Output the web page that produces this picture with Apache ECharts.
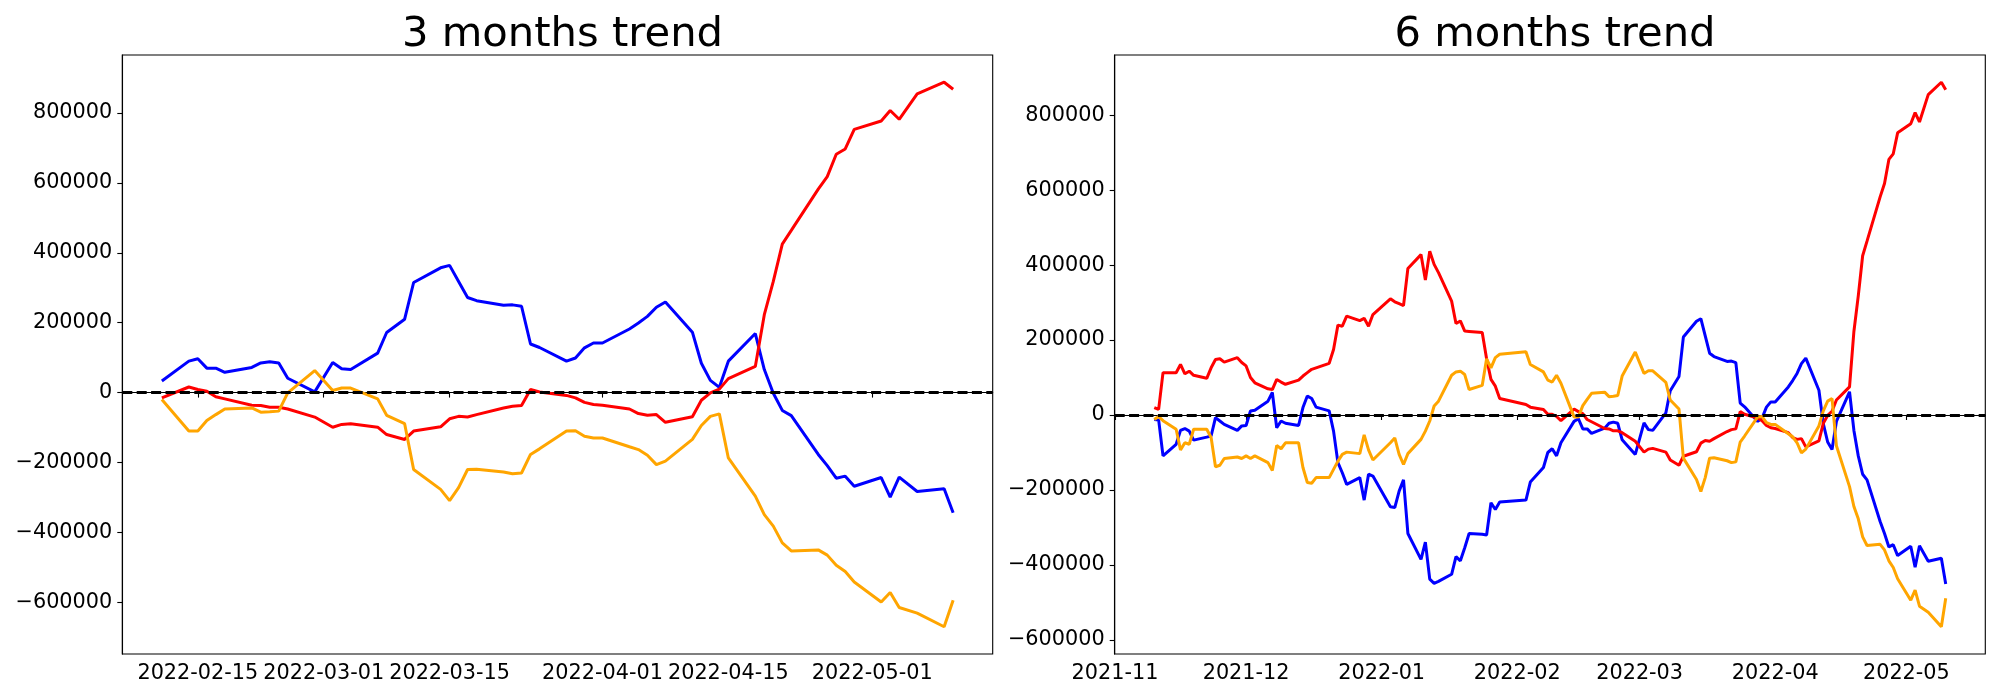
<!DOCTYPE html>
<html><head><meta charset="utf-8">
<script src="https://cdn.jsdelivr.net/npm/echarts@6/dist/echarts.min.js"></script>
<style>html,body{margin:0;padding:0;background:#fff}#c{width:2000px;height:700px}</style>
</head><body><div id="c"></div>
<script>
// ---------- DATA ----------
const titles = ['3 months trend', '6 months trend'];

const datesL = ['2022-02-11','2022-02-14','2022-02-15','2022-02-16','2022-02-17','2022-02-18','2022-02-21','2022-02-22','2022-02-23','2022-02-24','2022-02-25','2022-02-28',
'2022-03-02','2022-03-03','2022-03-04','2022-03-07','2022-03-08','2022-03-10','2022-03-11','2022-03-14','2022-03-15','2022-03-16','2022-03-17','2022-03-18','2022-03-21','2022-03-22','2022-03-23','2022-03-24','2022-03-25','2022-03-28','2022-03-29','2022-03-30','2022-03-31',
'2022-04-01','2022-04-04','2022-04-05','2022-04-06','2022-04-07','2022-04-08','2022-04-11','2022-04-12','2022-04-13','2022-04-14','2022-04-15','2022-04-18','2022-04-19','2022-04-20','2022-04-21','2022-04-22','2022-04-25','2022-04-26','2022-04-27','2022-04-28','2022-04-29',
'2022-05-02','2022-05-03','2022-05-04','2022-05-06','2022-05-09','2022-05-10'];

const blueL = [33000,90000,97000,70000,70000,58000,72000,85000,88000,85000,41000,2000,
86000,68000,66000,113000,172000,210000,315000,357000,364000,318000,272000,263000,250000,251000,247000,139000,129000,90000,99000,128000,142000,
142000,182000,199000,218000,244000,259000,173000,84000,35000,15000,90000,169000,66000,-2000,-51000,-66000,-177000,-209000,-245000,-239000,-268000,
-243000,-299000,-242000,-283000,-275000,-344000];

const redL = [-15000,16000,9000,4000,-12000,-18000,-36000,-37000,-42000,-42000,-47000,-70000,
-99000,-91000,-89000,-99000,-120000,-134000,-110000,-98000,-75000,-68000,-70000,-63000,-44000,-39000,-37000,9000,2000,-8000,-15000,-28000,-34000,
-36000,-47000,-60000,-65000,-63000,-85000,-69000,-22000,-1000,10000,40000,75000,223000,318000,425000,464000,582000,618000,682000,697000,753000,
777000,807000,782000,855000,888000,868000];

const orangeL = [-20000,-110000,-110000,-80000,-63000,-47000,-44000,-56000,-55000,-53000,-1000,63000,
6000,13000,13000,-18000,-65000,-89000,-220000,-277000,-309000,-272000,-220000,-219000,-227000,-232000,-230000,-177000,-161000,-110000,-109000,-125000,-130000,
-130000,-155000,-163000,-179000,-206000,-196000,-134000,-94000,-68000,-61000,-187000,-296000,-349000,-382000,-430000,-453000,-450000,-465000,-494000,-512000,-542000,
-599000,-572000,-615000,-631000,-670000,-594000];

const datesR = ['2021-11-10','2021-11-11','2021-11-12','2021-11-15','2021-11-16','2021-11-17','2021-11-18','2021-11-19','2021-11-22','2021-11-23','2021-11-24','2021-11-25','2021-11-26','2021-11-29','2021-11-30',
'2021-12-01','2021-12-02','2021-12-03','2021-12-06','2021-12-07','2021-12-08','2021-12-09','2021-12-10','2021-12-13','2021-12-14','2021-12-15','2021-12-16','2021-12-17','2021-12-20','2021-12-21','2021-12-22','2021-12-23','2021-12-24','2021-12-27','2021-12-28','2021-12-29','2021-12-30',
'2022-01-03','2022-01-04','2022-01-05','2022-01-06','2022-01-07','2022-01-10','2022-01-11','2022-01-12','2022-01-13','2022-01-14','2022-01-17','2022-01-18','2022-01-19','2022-01-20','2022-01-21','2022-01-24','2022-01-25','2022-01-26','2022-01-27','2022-01-28',
'2022-02-03','2022-02-04','2022-02-07','2022-02-08','2022-02-09','2022-02-10',
'2022-02-11','2022-02-14','2022-02-15','2022-02-16','2022-02-17','2022-02-18','2022-02-21','2022-02-22','2022-02-23','2022-02-24','2022-02-25','2022-02-28',
'2022-03-02','2022-03-03','2022-03-04','2022-03-07','2022-03-08','2022-03-10','2022-03-11','2022-03-14','2022-03-15','2022-03-16','2022-03-17','2022-03-18','2022-03-21','2022-03-22','2022-03-23','2022-03-24','2022-03-25','2022-03-28','2022-03-29','2022-03-30','2022-03-31',
'2022-04-01','2022-04-04','2022-04-05','2022-04-06','2022-04-07','2022-04-08','2022-04-11','2022-04-12','2022-04-13','2022-04-14','2022-04-15','2022-04-18','2022-04-19','2022-04-20','2022-04-21','2022-04-22','2022-04-25','2022-04-26','2022-04-27','2022-04-28','2022-04-29',
'2022-05-02','2022-05-03','2022-05-04','2022-05-06','2022-05-09','2022-05-10'];

const blueR = [-12000,-13000,-109000,-78000,-41000,-36000,-43000,-67000,-59000,-56000,-7000,-16000,-25000,-41000,-29000,
-28000,11000,13000,37000,60000,-34000,-16000,-22000,-28000,20000,51000,44000,21000,11000,-43000,-127000,-154000,-185000,-167000,-227000,-158000,-163000,
-245000,-247000,-203000,-173000,-316000,-385000,-339000,-438000,-449000,-444000,-425000,-378000,-389000,-354000,-316000,-318000,-320000,-234000,-252000,-232000,
-227000,-179000,-140000,-100000,-90000,-109000,
-74000,-17000,-10000,-37000,-37000,-49000,-35000,-22000,-19000,-22000,-66000,-105000,
-21000,-39000,-41000,6000,65000,103000,208000,250000,257000,211000,165000,156000,143000,144000,140000,32000,22000,-17000,-8000,21000,35000,
35000,75000,92000,111000,137000,152000,66000,-23000,-72000,-92000,-17000,62000,-41000,-109000,-158000,-173000,-284000,-316000,-352000,-346000,-375000,
-350000,-406000,-349000,-390000,-382000,-451000];

const redR = [20000,15000,113000,113000,135000,110000,117000,106000,98000,126000,148000,150000,141000,153000,140000,
131000,100000,86000,70000,68000,95000,88000,82000,93000,104000,113000,122000,126000,138000,175000,240000,237000,264000,252000,258000,237000,268000,
310000,302000,297000,292000,391000,428000,360000,437000,402000,380000,304000,244000,251000,224000,223000,220000,150000,95000,77000,44000,
28000,21000,15000,2000,2000,-4000,
-15000,16000,9000,4000,-12000,-18000,-36000,-37000,-42000,-42000,-47000,-70000,
-99000,-91000,-89000,-99000,-120000,-134000,-110000,-98000,-75000,-68000,-70000,-63000,-44000,-39000,-37000,9000,2000,-8000,-15000,-28000,-34000,
-36000,-47000,-60000,-65000,-63000,-85000,-69000,-22000,-1000,10000,40000,75000,223000,318000,425000,464000,582000,618000,682000,697000,753000,
777000,807000,782000,855000,888000,868000];

const orangeR = [-12000,-4000,-15000,-38000,-93000,-74000,-78000,-38000,-38000,-60000,-138000,-134000,-116000,-112000,-116000,
-109000,-116000,-109000,-127000,-148000,-81000,-90000,-74000,-74000,-140000,-180000,-182000,-167000,-167000,-145000,-123000,-105000,-99000,-103000,-53000,-93000,-120000,
-74000,-61000,-105000,-132000,-103000,-65000,-43000,-16000,24000,37000,106000,115000,117000,108000,68000,79000,150000,126000,153000,162000,
169000,135000,115000,93000,88000,106000,
85000,-5000,-5000,25000,42000,58000,61000,49000,50000,52000,104000,168000,
111000,118000,118000,87000,40000,16000,-115000,-172000,-204000,-167000,-115000,-114000,-122000,-127000,-125000,-72000,-56000,-5000,-4000,-20000,-25000,
-25000,-50000,-58000,-74000,-101000,-91000,-29000,11000,37000,44000,-82000,-191000,-244000,-277000,-325000,-348000,-345000,-360000,-389000,-407000,-437000,
-494000,-467000,-510000,-526000,-565000,-489000];

const xTicksL = ['2022-02-15','2022-03-01','2022-03-15','2022-04-01','2022-04-15','2022-05-01'];
const xTicksR = ['2021-11-01','2021-12-01','2022-01-01','2022-02-01','2022-03-01','2022-04-01','2022-05-01'];
const yTicks = [-600000,-400000,-200000,0,200000,400000,600000,800000];

// ---------- HELPERS ----------
function ts(s){ const p = s.split('-').map(Number); return new Date(p[0], p[1]-1, p[2]).getTime(); }
function pad(n){ return n < 10 ? '0' + n : '' + n; }
function fmtDay(v){ const d = new Date(v); return d.getFullYear() + '-' + pad(d.getMonth()+1) + '-' + pad(d.getDate()); }
function fmtMon(v){ const d = new Date(v); return d.getFullYear() + '-' + pad(d.getMonth()+1); }
function pairs(dates, vals){ return dates.map((d, i) => [ts(d), vals[i]]); }
function xRange(dates){ const a = ts(dates[0]), b = ts(dates[dates.length-1]); const m = 0.05*(b-a); return [a-m, b+m]; }
function yRange(arrs){ const all = [].concat.apply([], arrs); const lo = Math.min.apply(null, all), hi = Math.max.apply(null, all); const m = 0.05*(hi-lo); return [lo-m, hi+m]; }
function yFmt(v){ return v < 0 ? '\u2212' + String(Math.abs(Math.round(v))) : String(Math.round(v)); }

const FONT = 'DejaVu Sans';
const TICK_FS = 20.8;
const LINE_W = 3.0;
const grids = [
  {left: 122.3, top: 55, width: 870.4, height: 599},
  {left: 1114.7, top: 55, width: 870.6, height: 599}
];

function xAxisCfg(idx, dates, ticks, fmt){
  const r = xRange(dates);
  return {
    type: 'value', gridIndex: idx, min: r[0], max: r[1], scale: true,
    axisLine: {show: true, lineStyle: {color: '#000', width: 1.1}},
    axisTick: {show: true, inside: false, length: 5, customValues: ticks.map(ts), lineStyle: {color: '#000', width: 1.1}},
    axisLabel: {show: true, customValues: ticks.map(ts), formatter: fmt, margin: 9, color: '#000', fontFamily: FONT, fontSize: TICK_FS, hideOverlap: false},
    splitLine: {show: false}
  };
}
function yAxisCfg(idx, arrs){
  const r = yRange(arrs);
  return {
    type: 'value', gridIndex: idx, min: r[0], max: r[1], scale: true,
    axisLine: {show: true, lineStyle: {color: '#000', width: 1.1}},
    axisTick: {show: true, inside: false, length: 5, customValues: yTicks, lineStyle: {color: '#000', width: 1.1}},
    axisLabel: {show: true, customValues: yTicks, formatter: yFmt, margin: 10, color: '#000', fontFamily: FONT, fontSize: TICK_FS},
    splitLine: {show: false}
  };
}
function lineSeries(idx, dates, vals, color, extra){
  return Object.assign({
    type: 'line', xAxisIndex: idx, yAxisIndex: idx,
    data: pairs(dates, vals), showSymbol: false, symbol: 'none',
    lineStyle: {color: color, width: LINE_W}, itemStyle: {color: color},
    silent: true, z: 2
  }, extra || {});
}
const zeroLine = {
  silent: true, symbol: ['none','none'], label: {show: false},
  lineStyle: {color: '#000', width: 2.8, type: [10, 4.4]},
  data: [{yAxis: 0}]
};

const chart = echarts.init(document.getElementById('c'), null, {renderer: 'canvas'});
chart.setOption({
  animation: false,
  backgroundColor: '#fff',
  title: [
    {text: titles[0], left: 557.5, top: 9, textAlign: 'center', textStyle: {fontFamily: FONT, fontSize: 41.7, fontWeight: 'normal', color: '#000'}},
    {text: titles[1], left: 1550, top: 9, textAlign: 'center', textStyle: {fontFamily: FONT, fontSize: 41.7, fontWeight: 'normal', color: '#000'}}
  ],
  grid: grids.map(g => Object.assign({show: true, borderColor: '#000', borderWidth: 1.1, backgroundColor: 'transparent', containLabel: false}, g)),
  xAxis: [xAxisCfg(0, datesL, xTicksL, fmtDay), xAxisCfg(1, datesR, xTicksR, fmtMon)],
  yAxis: [yAxisCfg(0, [blueL, redL, orangeL]), yAxisCfg(1, [blueR, redR, orangeR])],
  series: [
    lineSeries(0, datesL, blueL, '#0000ff'),
    lineSeries(0, datesL, redL, '#ff0000'),
    lineSeries(0, datesL, orangeL, '#ffa500', {markLine: zeroLine}),
    lineSeries(1, datesR, blueR, '#0000ff'),
    lineSeries(1, datesR, redR, '#ff0000'),
    lineSeries(1, datesR, orangeR, '#ffa500', {markLine: zeroLine})
  ]
});
</script>
</body></html>
